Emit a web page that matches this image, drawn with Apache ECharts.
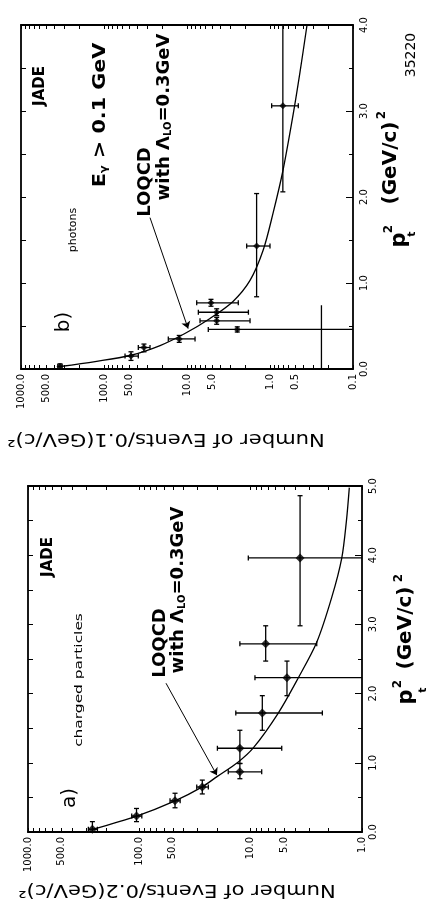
<!DOCTYPE html>
<html><head><meta charset="utf-8">
<script src="https://cdn.jsdelivr.net/npm/echarts@6/dist/echarts.min.js"></script>
<style>html,body{margin:0;padding:0;background:#fff}#c{width:429px;height:917px}</style>
</head><body><div id="c"></div>
<script>
// ---------- Panel a) charged particles ----------
const ptA    = [0.04, 0.23, 0.45, 0.65, 0.87, 1.21, 1.72, 2.23, 2.72, 3.96];
const evA    = [264, 106, 47.8, 27.2, 12.5, 12.5, 7.86, 4.72, 7.33, 3.6];
const evHiA  = [287, 117, 53, 30.5, 15.9, 19.9, 13.6, 9.15, 12.5, 10.5];
const evLoA  = [238, 95, 43, 24, 7.96, 5.26, 2.27, 0.8, 2.55, 0.8];
const ptLoA  = [0.0, 0.15, 0.35, 0.55, 0.77, 0.99, 1.47, 1.97, 2.47, 2.98];
const ptHiA  = [0.15, 0.34, 0.56, 0.75, 0.99, 1.47, 1.97, 2.47, 2.98, 4.86];
const curvePtA = [0.039, 0.231, 0.451, 0.653, 0.797, 1.009, 1.215, 1.719, 2.229, 2.742, 3.390, 3.958, 4.496, 4.976];
const curveEvA = [264.5, 105.6, 47.8, 27.2, 20.2, 13.0, 9.47, 5.65, 3.73, 2.55, 1.87, 1.52, 1.38, 1.30];
const labelsA = [1000, 500, 100, 50, 10, 5, 1];
const ticksA = [1,2,3,4,5,6,7,8,9,10,20,30,40,50,60,70,80,90,100,200,300,400,500,600,700,800,900,1000];

// ---------- Panel b) photons ----------
const ptB    = [0.03, 0.15, 0.25, 0.35, 0.46, 0.56, 0.66, 0.77, 1.43, 3.06];
const evB    = [339, 47.3, 33, 12.4, 2.48, 4.39, 4.39, 5.14, 1.45, 0.70];
const evHiB  = [360, 55.8, 38.6, 16.8, 5.54, 6.97, 7.3, 7.64, 1.91, 0.955];
const evLoB  = [320, 38.6, 27.9, 8.0, 0.08, 1.74, 1.82, 2.41, 1.0, 0.456];
const ptLoB  = [0.0, 0.10, 0.20, 0.31, 0.43, 0.52, 0.62, 0.73, 0.84, 2.06];
const ptHiB  = [0.06, 0.20, 0.29, 0.39, 0.49, 0.60, 0.70, 0.81, 2.04, 4.04];
const curvePtB = [0.029, 0.087, 0.157, 0.273, 0.413, 0.588, 0.786, 1.030, 1.380, 1.810, 2.311, 2.951, 3.452, 4.0];
const curveEvB = [339, 128, 48.6, 21.1, 10.6, 5.28, 2.79, 1.74, 1.21, 0.92, 0.697, 0.528, 0.435, 0.358];
// stray vertical stroke in panel b (events value, pT² from / to)
const strayEvB = [0.24, 0.24];
const strayPtB = [0.0, 0.74];
const labelsB = [1000, 500, 100, 50, 10, 5, 1, 0.5, 0.1];
const ticksB = [0.1,0.2,0.3,0.4,0.5,0.6,0.7,0.8,0.9,1,2,3,4,5,6,7,8,9,10,20,30,40,50,60,70,80,90,100,200,300,400,500,600,700,800,900,1000];

const ptLabelsA = [0, 1, 2, 3, 4, 5];
const ptLabelsB = [0, 1, 2, 3, 4];

const FONT = 'DejaVu Sans';
const BLACK = '#000';

function logAxis(grid, min, max, pos, ticks, labels) {
  return {
    type: 'log', logBase: 10, gridIndex: grid, position: pos, inverse: true, min: min, max: max,
    axisLine: { show: true, onZero: false, lineStyle: { color: BLACK, width: 1.8 } },
    axisTick: { show: true, inside: true, length: 4, customValues: ticks, lineStyle: { color: BLACK, width: 1 } },
    axisLabel: labels ? { show: true, customValues: labels, rotate: 90, margin: 5, color: BLACK,
      fontFamily: FONT, fontSize: 10, formatter: v => (+v).toFixed(1) } : { show: false },
    splitLine: { show: false }, minorTick: { show: false }, minorSplitLine: { show: false }
  };
}
function ptAxis(grid, max, pos, labels) {
  return {
    type: 'value', gridIndex: grid, position: pos, min: 0, max: max, interval: labels ? 1 : 0.5,
    axisLine: { show: true, onZero: false, lineStyle: { color: BLACK, width: 1.8 } },
    axisTick: { show: true, inside: true, length: labels ? 7 : 5, lineStyle: { color: BLACK, width: 1 } },
    minorTick: { show: !!labels, splitNumber: 2, length: 4, lineStyle: { color: BLACK, width: 1 } },
    axisLabel: labels ? { show: true, rotate: 90, margin: 6, color: BLACK, fontFamily: FONT, fontSize: 10,
      formatter: v => (+v).toFixed(1), customValues: labels } : { show: false },
    splitLine: { show: false }
  };
}

function errSeries(xi, yi, ev, lo, hi, pt, plo, phi) {
  const data = ev.map((n, i) => [n, pt[i], lo[i], hi[i], plo[i], phi[i]]);
  return {
    type: 'custom', xAxisIndex: xi, yAxisIndex: yi, clip: true, silent: true, data: data,
    encode: { x: 0, y: 1 },
    renderItem: function (params, api) {
      const n = api.value(0), p = api.value(1);
      const a = api.coord([api.value(2), p]), b = api.coord([api.value(3), p]);
      const c = api.coord([n, api.value(4)]), d = api.coord([n, api.value(5)]);
      const st = { stroke: BLACK, lineWidth: 1.3 };
      const cap = 2.5;
      return { type: 'group', children: [
        { type: 'line', shape: { x1: a[0], y1: a[1], x2: b[0], y2: b[1] }, style: st },
        { type: 'line', shape: { x1: c[0], y1: c[1], x2: d[0], y2: d[1] }, style: st },
        { type: 'line', shape: { x1: c[0] - cap, y1: c[1], x2: c[0] + cap, y2: c[1] }, style: st },
        { type: 'line', shape: { x1: d[0] - cap, y1: d[1], x2: d[0] + cap, y2: d[1] }, style: st },
        { type: 'line', shape: { x1: a[0], y1: a[1] - cap, x2: a[0], y2: a[1] + cap }, style: st },
        { type: 'line', shape: { x1: b[0], y1: b[1] - cap, x2: b[0], y2: b[1] + cap }, style: st }
      ] };
    }
  };
}

function txt(x, y, text, size, opts) {
  opts = opts || {};
  return {
    type: 'text', x: x, y: y, rotation: opts.rot === undefined ? Math.PI / 2 : opts.rot,
    scaleX: opts.sx || 1, silent: true,
    style: {
      text: text, fill: BLACK, fontFamily: FONT, fontSize: size, fontWeight: opts.bold ? 'bold' : 'normal',
      align: 'center', verticalAlign: 'middle', lineHeight: size, rich: opts.rich
    }
  };
}
const subRich = { s: { fontFamily: FONT, fontWeight: 'bold', fontSize: 10, verticalAlign: 'bottom', lineHeight: 6, fill: BLACK } };

const chart = echarts.init(document.getElementById('c'), null, { renderer: 'canvas' });
chart.setOption({
  animation: false,
  backgroundColor: '#fff',
  grid: [
    { left: 28, top: 486, width: 334, height: 346, outerBoundsMode: 'none' },
    { left: 21, top: 25, width: 332, height: 344, outerBoundsMode: 'none' }
  ],
  xAxis: [
    logAxis(0, 1, 1000, 'bottom', ticksA, labelsA),
    logAxis(0, 1, 1000, 'top', ticksA, null),
    logAxis(1, 0.1, 1000, 'bottom', ticksB, labelsB),
    logAxis(1, 0.1, 1000, 'top', ticksB, null)
  ],
  yAxis: [
    ptAxis(0, 5, 'right', ptLabelsA),
    ptAxis(0, 5, 'left', null),
    ptAxis(1, 4, 'right', ptLabelsB),
    ptAxis(1, 4, 'left', null)
  ],
  series: [
    { type: 'line', xAxisIndex: 0, yAxisIndex: 0, smooth: 0.3, showSymbol: false, silent: true,
      lineStyle: { color: BLACK, width: 1.3 }, data: curvePtA.map((p, i) => [curveEvA[i], p]),
      markLine: { silent: true, symbol: ['none', 'arrow'], symbolSize: 7, label: { show: false },
        lineStyle: { color: BLACK, width: 1, type: 'solid' },
        data: [[{ coord: [57.6, 2.15] }, { coord: [20.1, 0.82] }]] } },
    errSeries(0, 0, evA, evLoA, evHiA, ptA, ptLoA, ptHiA),
    { type: 'scatter', xAxisIndex: 0, yAxisIndex: 0, symbol: 'diamond', symbolSize: 9, silent: true,
      itemStyle: { color: BLACK }, data: ptA.map((p, i) => [evA[i], p]) },

    { type: 'line', xAxisIndex: 2, yAxisIndex: 2, smooth: 0.3, showSymbol: false, silent: true,
      lineStyle: { color: BLACK, width: 1.3 }, data: curvePtB.map((p, i) => [curveEvB[i], p]),
      markLine: { silent: true, symbol: ['none', 'arrow'], symbolSize: 7, label: { show: false },
        lineStyle: { color: BLACK, width: 1, type: 'solid' },
        data: [[{ coord: [27.9, 1.76] }, { coord: [9.7, 0.47] }]] } },
    errSeries(2, 2, evB, evLoB, evHiB, ptB, ptLoB, ptHiB),
    { type: 'scatter', xAxisIndex: 2, yAxisIndex: 2, symbol: 'diamond', symbolSize: 7, silent: true,
      itemStyle: { color: BLACK }, data: ptB.map((p, i) => [evB[i], p]) },
    { type: 'line', xAxisIndex: 2, yAxisIndex: 2, showSymbol: false, silent: true,
      lineStyle: { color: BLACK, width: 1.3 }, data: strayPtB.map((p, i) => [strayEvB[i], p]) }
  ],
  graphic: [
    // panel a
    txt(48, 557, 'JADE', 15, { bold: true }),
    txt(79, 680, 'charged particles', 11, { sx: 1.4 }),
    txt(70, 798, 'a)', 20),
    txt(160, 643, 'LOQCD', 18, { bold: true }),
    txt(178, 590, 'with Λ{s|LO}=0.3GeV', 18, { bold: true, rich: subRich }),
    txt(177, 889, 'Number of Events/0.2(GeV/c)²', 17, { rot: Math.PI, sx: 1.24 }),
    txt(407, 697, 'p', 21, { bold: true }),
    txt(423, 690, 't', 11, { bold: true }),
    txt(398, 684, '2', 12, { bold: true }),
    txt(406, 628, '(GeV/c)', 20, { bold: true }),
    txt(399, 578, '2', 12, { bold: true }),
    // panel b
    txt(40, 86, 'JADE', 15, { bold: true }),
    txt(100, 115, 'E{s|γ} > 0.1 GeV', 18, { bold: true, rich: subRich, sx: 1.15 }),
    txt(73, 230, 'photons', 11),
    txt(64, 322, 'b)', 20),
    txt(145, 182, 'LOQCD', 18, { bold: true }),
    txt(164, 117, 'with Λ{s|LO}=0.3GeV', 18, { bold: true, rich: subRich }),
    txt(166, 438, 'Number of Events/0.1(GeV/c)²', 17, { rot: Math.PI, sx: 1.24 }),
    txt(400, 240, 'p', 21, { bold: true }),
    txt(412, 234, 't', 11, { bold: true }),
    txt(389, 229, '2', 12, { bold: true }),
    txt(391, 163, '(GeV/c)', 20, { bold: true }),
    txt(382, 115, '2', 12, { bold: true }),
    txt(411, 55, '35220', 14)
  ]
});
</script></body></html>
